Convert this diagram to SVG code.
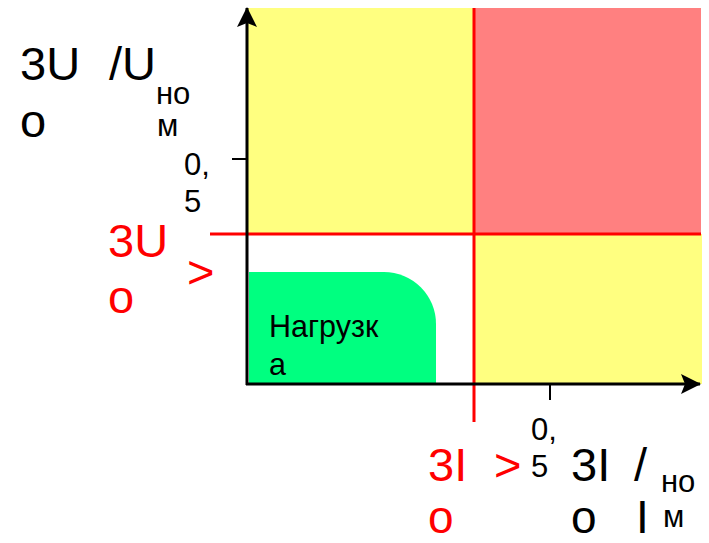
<svg xmlns="http://www.w3.org/2000/svg" width="709" height="543" viewBox="0 0 709 543">
<style>
.t{font-family:"Liberation Sans",Arial,sans-serif;fill:#000}
.big{font-size:47px}
.bb{font-size:46px}
.sm{font-size:31px}
.sub{font-size:31px}
.red{fill:#FF0000}
.ax{stroke:#000;stroke-width:3;fill:none}
.rl{stroke:#FF0000;stroke-width:3;fill:none}
</style>
<defs>
<marker id="arr" markerUnits="userSpaceOnUse" markerWidth="20" markerHeight="20" viewBox="0 0 20 20" refX="19" refY="10" orient="auto">
<path d="M0,0 L20,10 L0,20 L4,10 Z" fill="#000"/>
</marker>
</defs>
<rect width="709" height="543" fill="#fff"/>
<g id="regions">
<rect x="248" y="8" width="226" height="226" fill="#FFFF80"/>
<rect x="474" y="8" width="227" height="226" fill="#FF8080"/>
<rect x="474" y="234" width="228" height="150" fill="#FFFF80"/>
</g>
<g id="node-load">
<path d="M249,272 H384 A52,52 0 0 1 436,324 V384 H249 Z" fill="#00FF80"/>
<text class="t" font-size="30.5" x="269" y="337">Нагрузк</text>
<text class="t" font-size="30.5" x="269" y="375">а</text>
</g>
<g id="connectors">
<line class="rl" x1="210" y1="234" x2="701" y2="234"/>
<line class="rl" x1="474" y1="8" x2="474" y2="422"/>
<line class="ax" x1="247" y1="385" x2="247" y2="8" marker-end="url(#arr)"/>
<line class="ax" x1="246" y1="384" x2="700" y2="384" marker-end="url(#arr)"/>
<line stroke="#000" stroke-width="2" x1="232" y1="159" x2="247" y2="159"/>
<line stroke="#000" stroke-width="2" x1="550" y1="384" x2="550" y2="400"/>
</g>
<g id="y-axis-label">
<text class="t big" x="20" y="80">3U</text>
<text class="t big" x="20" y="137">о</text>
<text class="t big" x="109" y="80">/U</text>
<text class="t sub" x="156" y="104">но</text>
<text class="t sub" x="157" y="136">м</text>
</g>
<g id="y-tick-label">
<text class="t sm" x="184" y="175">0,</text>
<text class="t sm" x="184" y="212">5</text>
</g>
<g id="u-threshold">
<text class="t big red" x="108" y="257">3U</text>
<text class="t big red" x="108" y="313">о</text>
<text class="t big red" x="187" y="288">&gt;</text>
</g>
<g id="i-threshold">
<text class="t big red" x="428" y="481">3I</text>
<text class="t bb red" x="428" y="533">о</text>
<text class="t big red" x="494" y="481">&gt;</text>
</g>
<g id="x-tick-label">
<text class="t sm" x="531" y="440">0,</text>
<text class="t sm" x="531" y="477">5</text>
</g>
<g id="x-axis-label">
<text class="t big" x="571" y="481">3I</text>
<text class="t bb" x="571" y="533">о</text>
<text class="t big" x="634" y="481">/</text>
<text class="t bb" x="636" y="533">I</text>
<text class="t sub" x="661" y="492">но</text>
<text class="t sub" x="663" y="527">м</text>
</g>
</svg>
